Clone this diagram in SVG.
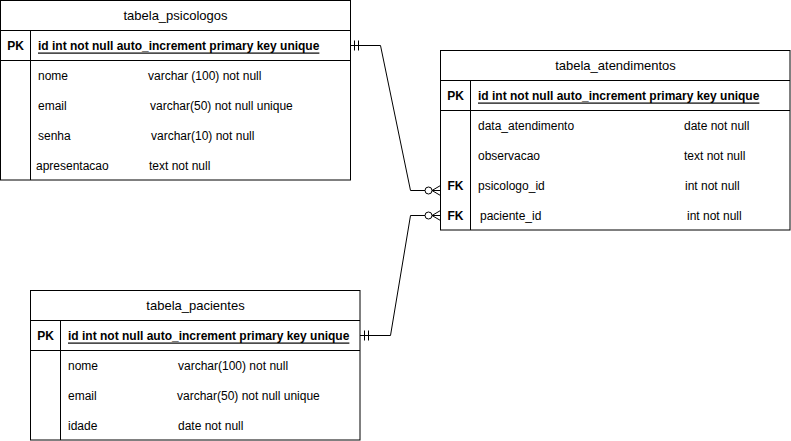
<svg xmlns="http://www.w3.org/2000/svg" width="791" height="441" viewBox="0 0 791 441">
  <style>
    .box { fill: #ffffff; stroke: #000000; stroke-width: 1; }
    .ln { stroke: #000000; stroke-width: 1; fill: none; }
    text { font-family: "Liberation Sans", Arial, sans-serif; font-size: 12px; fill: #000000; dominant-baseline: central; }
    .title { font-size: 13px; text-anchor: middle; }
    .key { font-weight: bold; text-anchor: middle; }
    .pk { font-weight: bold; text-decoration: underline; }
    .edge { stroke: #000000; stroke-width: 1; fill: none; }
  </style>

  <!-- tabela_psicologos -->
  <g id="tabela_psicologos">
    <rect class="box" x="0.5" y="0.5" width="350" height="179.5"/>
    <line class="ln" x1="0.5" y1="30.5" x2="350.5" y2="30.5"/>
    <line class="ln" x1="0.5" y1="60.5" x2="350.5" y2="60.5"/>
    <line class="ln" x1="30.5" y1="30.5" x2="30.5" y2="180"/>
    <text class="title" x="175.5" y="15.5">tabela_psicologos</text>
    <text class="key" x="15.5" y="45.5">PK</text>
    <text class="pk" x="38" y="45.5">id int not null auto_increment primary key unique</text>
    <text x="38" y="75.5">nome</text>
    <text x="148" y="75.5">varchar (100) not null</text>
    <text x="38" y="105.5">email</text>
    <text x="150" y="105.5">varchar(50) not null unique</text>
    <text x="38" y="135.5">senha</text>
    <text x="151" y="135.5">varchar(10) not null</text>
    <text x="36" y="165.5">apresentacao</text>
    <text x="149" y="165.5">text not null</text>
  </g>

  <!-- tabela_atendimentos -->
  <g id="tabela_atendimentos">
    <rect class="box" x="440.5" y="50.5" width="349.5" height="179.5"/>
    <line class="ln" x1="440.5" y1="80.5" x2="790" y2="80.5"/>
    <line class="ln" x1="440.5" y1="110.5" x2="790" y2="110.5"/>
    <line class="ln" x1="470.5" y1="80.5" x2="470.5" y2="230"/>
    <text class="title" x="615.5" y="65.5">tabela_atendimentos</text>
    <text class="key" x="455.5" y="95.5">PK</text>
    <text class="pk" x="478" y="95.5">id int not null auto_increment primary key unique</text>
    <text x="478" y="125.5">data_atendimento</text>
    <text x="684" y="125.5">date not null</text>
    <text x="478" y="155.5">observacao</text>
    <text x="684" y="155.5">text not null</text>
    <text class="key" x="455.5" y="185.5">FK</text>
    <text x="478" y="185.5">psicologo_id</text>
    <text x="685" y="185.5">int not null</text>
    <text class="key" x="455.5" y="215.5">FK</text>
    <text x="480" y="215.5">paciente_id</text>
    <text x="687" y="215.5">int not null</text>
  </g>

  <!-- tabela_pacientes -->
  <g id="tabela_pacientes">
    <rect class="box" x="30.5" y="290.5" width="329.5" height="149.5"/>
    <line class="ln" x1="30.5" y1="320.5" x2="360" y2="320.5"/>
    <line class="ln" x1="30.5" y1="350.5" x2="360" y2="350.5"/>
    <line class="ln" x1="60.5" y1="320.5" x2="60.5" y2="440"/>
    <text class="title" x="195.5" y="305.5">tabela_pacientes</text>
    <text class="key" x="45.5" y="335.5">PK</text>
    <text class="pk" x="68" y="335.5">id int not null auto_increment primary key unique</text>
    <text x="68" y="365.5">nome</text>
    <text x="178" y="365.5">varchar(100) not null</text>
    <text x="68" y="395.5">email</text>
    <text x="177" y="395.5">varchar(50) not null unique</text>
    <text x="68" y="425.5">idade</text>
    <text x="178" y="425.5">date not null</text>
  </g>

  <!-- relationships: mandatory-one at the PK end, zero-to-many at the FK end -->
  <g id="connectors">
    <!-- psicologos 1 : N atendimentos -->
    <path class="edge" d="M350.5 45.5 H380.5 L410.5 190.5 H425"/>
    <path class="edge" d="M354.5 40.5 V50.5 M358.5 40.5 V50.5"/>
    <circle class="edge" cx="428.5" cy="190.5" r="3.5"/>
    <path class="edge" d="M440.5 185.5 L432 190.5 L440.5 195.5 M432 190.5 H440.5"/>
    <!-- pacientes 1 : N atendimentos -->
    <path class="edge" d="M360 335.5 H390.5 L410.5 215.5 H425"/>
    <path class="edge" d="M364.5 330.5 V340.5 M368.5 330.5 V340.5"/>
    <circle class="edge" cx="428.5" cy="215.5" r="3.5"/>
    <path class="edge" d="M440.5 210.5 L432 215.5 L440.5 220.5 M432 215.5 H440.5"/>
  </g>
</svg>
